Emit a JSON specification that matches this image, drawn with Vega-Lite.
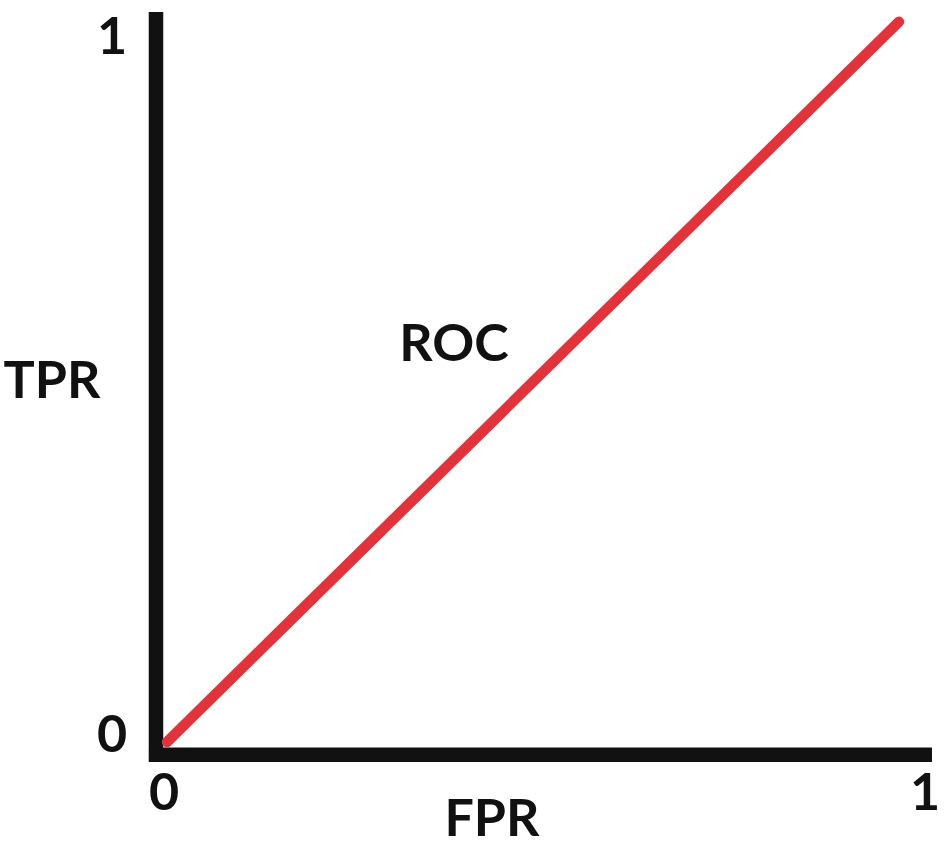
{
  "$schema": "https://vega.github.io/schema/vega-lite/v6.json",
  "width": 945,
  "height": 846,
  "autosize": {"type": "fit", "contains": "padding"},
  "padding": 0,
  "background": "white",
  "config": {"view": {"stroke": null}},
  "datasets": {
    "axes": [
      {"name": "yaxis", "x": -0.0054, "y": -0.0233, "x2": -0.0054, "y2": 1.0137, "w": "v"},
      {"name": "xaxis", "x": -0.0149, "y": -0.0137, "x2": 1.0432, "y2": -0.0137, "w": "h"}
    ],
    "roc": [
      {"fpr": 0.0095, "tpr": 0.0041},
      {"fpr": 0.9986, "tpr": 1.0}
    ],
    "labels": [
      {"t": "1", "x": -0.0649, "y": 0.978},
      {"t": "0", "x": -0.0649, "y": 0.0123},
      {"t": "0", "x": 0.0054, "y": -0.0685},
      {"t": "1", "x": 1.0338, "y": -0.0685},
      {"t": "TPR", "x": -0.1459, "y": 0.5014},
      {"t": "ROC", "x": 0.3973, "y": 0.5534},
      {"t": "FPR", "x": 0.4486, "y": -0.1041}
    ]
  },
  "layer": [
    {
      "data": {"name": "axes"},
      "mark": {"type": "rule", "color": "#111111", "strokeWidth": 14.5, "strokeCap": "butt"},
      "encoding": {
        "x": {"field": "x", "type": "quantitative", "scale": {"domain": [-0.2162, 1.0608], "nice": false, "zero": false}, "axis": null},
        "y": {"field": "y", "type": "quantitative", "scale": {"domain": [-0.1384, 1.0205], "nice": false, "zero": false}, "axis": null},
        "x2": {"field": "x2"},
        "y2": {"field": "y2"}
      }
    },
    {
      "data": {"name": "roc"},
      "mark": {"type": "line", "color": "#e2323a", "strokeWidth": 10.5, "strokeCap": "round"},
      "encoding": {
        "x": {"field": "fpr", "type": "quantitative", "scale": {"domain": [-0.2162, 1.0608], "nice": false, "zero": false}, "axis": null},
        "y": {"field": "tpr", "type": "quantitative", "scale": {"domain": [-0.1384, 1.0205], "nice": false, "zero": false}, "axis": null}
      }
    },
    {
      "data": {"name": "labels"},
      "mark": {"type": "text", "font": "Lato", "fontWeight": "bold", "fontSize": 52, "color": "#111111", "align": "center", "baseline": "middle"},
      "encoding": {
        "x": {"field": "x", "type": "quantitative", "scale": {"domain": [-0.2162, 1.0608], "nice": false, "zero": false}, "axis": null},
        "y": {"field": "y", "type": "quantitative", "scale": {"domain": [-0.1384, 1.0205], "nice": false, "zero": false}, "axis": null},
        "text": {"field": "t", "type": "nominal"}
      }
    }
  ]
}
